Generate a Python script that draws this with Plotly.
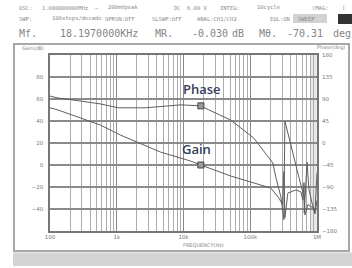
import numpy as np
import plotly.graph_objects as go

# ---- data ----
freq_phase = [100, 132, 282, 565, 1054, 2690, 9010, 18197, 23770, 50900, 113000,
              183300, 217900, 241700, 287600, 319000, 330000, 536000, 637800,
              645000, 707900, 758600, 871000, 933000, 1000000]
phase_deg = [96, 92, 86, 80, 72, 72, 78, 76, 68, 47, 10,
             -29, -41, -70, -110, -157, 45, -70, -110,
             -143, -39, -96, -131, -141, -61]

freq_gain = [100, 132, 565, 1130, 4510, 12740, 18197, 50900, 143900, 203300,
             268400, 287600, 305000, 319000, 330000, 366400, 483300, 574400,
             615600, 637800, 660000, 730000, 871000, 933000, 1000000]
gain_db = [52, 50, 36.4, 27.3, 11.8, 3.6, 0, -10, -18.2, -21,
           -30, -33.6, -36, -6, -48, -25.5, -22.7, -24.5,
           -32, -16, -45.5, -36, -39, -44.5, -32]

marker_freq = 18197
marker_gain = 0
marker_phase = 76

x_tickvals = [100, 1000, 10000, 100000, 1000000]
x_ticktext = ["100", "1k", "10k", "100k", "1M"]
gain_ticks = [-40, -20, 0, 20, 40, 60, 80]
phase_ticks = [-180, -135, -90, -45, 0, 45, 90, 135, 180]
minor_vals = [m * 10 ** d for d in range(2, 6) for m in range(2, 10)]

header1 = [("OSC:", 17), ("1.000000000MHz", 40), ("~", 93), ("200mVpeak", 106), ("DC", 172),
           ("6.00 V", 185), ("INTEG:", 218), ("10cycle", 255), ("(MAG:", 310), ("|", 340)]
header2 = [("SWP:", 17), ("100steps/decade", 50), ("OPRSN:OFF", 103), ("SLSWP:OFF", 150),
           ("ANAL:CH1/CH2", 195), ("EQL:ON", 268)]
header3 = [("Mf.", 17), ("18.1970000KHz", 58), ("MR.", 153), ("-0.030", 190), ("dB", 230),
           ("Mθ.", 257), ("-70.31", 285), ("deg", 331)]

# ---- geometry helpers (pixel -> paper) ----
W, H = 352, 268
ML, MR, MT, MB = 50, 35, 55, 37
PW, PH = W - ML - MR, H - MT - MB


def px(x):
    return (x - ML) / PW


def py(y):
    return (H - MB - y) / PH


fig = go.Figure()
line_col = "#5e5e5e"
fig.add_trace(go.Scatter(x=freq_phase, y=phase_deg, yaxis="y2", mode="lines",
                         line=dict(color=line_col, width=1), showlegend=False))
fig.add_trace(go.Scatter(x=freq_gain, y=gain_db, mode="lines",
                         line=dict(color=line_col, width=1), showlegend=False))
fig.add_trace(go.Scatter(x=[marker_freq], y=[marker_phase], yaxis="y2", mode="markers",
                         marker=dict(symbol="square", size=6, color="#9a9a9a",
                                     line=dict(color="#444", width=1)), showlegend=False))
fig.add_trace(go.Scatter(x=[marker_freq], y=[marker_gain], mode="markers",
                         marker=dict(symbol="square", size=6, color="#9a9a9a",
                                     line=dict(color="#444", width=1)), showlegend=False))

tickfont = dict(family="DejaVu Sans", size=5.5, color="#777")
fig.update_layout(
    width=W, height=H,
    margin=dict(l=ML, r=MR, t=MT, b=MB, pad=0),
    paper_bgcolor="white", plot_bgcolor="white",
    xaxis=dict(type="log", range=[2, 6], tickvals=x_tickvals, ticktext=x_ticktext,
               showgrid=True, gridcolor="#8a8a8a", gridwidth=1.2,
               minor=dict(tickvals=minor_vals, showgrid=True, gridcolor="#acacac", gridwidth=1),
               showline=True, linecolor="#777", linewidth=1.5, mirror=True,
               ticks="", tickfont=tickfont, zeroline=False),
    yaxis=dict(range=[-60, 100], tickvals=gain_ticks, showgrid=True, gridcolor="#8a8a8a",
               gridwidth=1.5, showline=True, linecolor="#777", linewidth=1.5, mirror=True,
               ticks="", tickfont=tickfont, zeroline=False, ticklabelstandoff=4),
    yaxis2=dict(range=[-180, 180], tickvals=phase_ticks, overlaying="y", side="right",
                showgrid=False, zeroline=False, ticks="", tickfont=tickfont,
                ticklabelstandoff=4),
)

shapes = [
    # outer frame
    dict(type="rect", xref="paper", yref="paper", x0=px(14), x1=px(349), y0=py(251), y1=py(44),
         line=dict(color="#a8a8a8", width=2), fillcolor="rgba(0,0,0,0)", layer="below"),
    # bottom grey band
    dict(type="rect", xref="paper", yref="paper", x0=px(13), x1=px(353), y0=py(266), y1=py(252.5),
         line=dict(width=0), fillcolor="#d4d4d4", layer="below"),
    # right shaded band in plot
    dict(type="rect", xref="paper", yref="paper", x0=px(310), x1=1, y0=0, y1=1,
         line=dict(width=0), fillcolor="rgba(190,190,190,0.35)", layer="below"),
    # SWEEP box
    dict(type="rect", xref="paper", yref="paper", x0=px(293), x1=px(327), y0=py(23), y1=py(14),
         line=dict(width=0), fillcolor="#d2d2d2", layer="below"),
    # black box
    dict(type="rect", xref="paper", yref="paper", x0=px(338), x1=px(353), y0=py(24), y1=py(14),
         line=dict(width=0), fillcolor="#333", layer="below"),
]
fig.update_layout(shapes=shapes)

ann = []
for txt, x in header1:
    ann.append(dict(text=txt, x=px(x), y=py(8), xref="paper", yref="paper", xanchor="left",
                    yanchor="middle", showarrow=False,
                    font=dict(family="DejaVu Sans Mono", size=5.5, color="#8a8a8a")))
for txt, x in header2:
    ann.append(dict(text=txt, x=px(x), y=py(19), xref="paper", yref="paper", xanchor="left",
                    yanchor="middle", showarrow=False,
                    font=dict(family="DejaVu Sans Mono", size=5.5, color="#8a8a8a")))
ann.append(dict(text="SWEEP", x=px(296), y=py(19), xref="paper", yref="paper", xanchor="left",
                yanchor="middle", showarrow=False,
                font=dict(family="DejaVu Sans Mono", size=5.5, color="#8a8a8a")))
for txt, x in header3:
    ann.append(dict(text=txt, x=px(x), y=py(33), xref="paper", yref="paper", xanchor="left",
                    yanchor="middle", showarrow=False,
                    font=dict(family="DejaVu Sans Mono", size=10, color="#858585")))
ann.append(dict(text="Gain(dB)", x=px(20), y=py(48), xref="paper", yref="paper",
                xanchor="left", yanchor="middle", showarrow=False,
                font=dict(family="DejaVu Sans", size=5, color="#888")))
ann.append(dict(text="Phase(deg)", x=px(347), y=py(47), xref="paper", yref="paper",
                xanchor="right", yanchor="middle", showarrow=False,
                font=dict(family="DejaVu Sans", size=5, color="#888")))
ann.append(dict(text="FREQUENCY(Hz)", x=px(203), y=py(245), xref="paper", yref="paper",
                xanchor="center", yanchor="middle", showarrow=False,
                font=dict(family="DejaVu Sans", size=5, color="#888")))
ann.append(dict(text="Phase", x=np.log10(marker_freq), y=marker_phase, xref="x", yref="y2",
                yshift=17, xshift=1, showarrow=False,
                font=dict(family="Open Sans", size=13, color="#34405a", weight=600)))
ann.append(dict(text="Gain", x=np.log10(marker_freq), y=marker_gain, xref="x", yref="y",
                yshift=16, xshift=-4, showarrow=False,
                font=dict(family="Open Sans", size=13, color="#34405a", weight=600)))
fig.update_layout(annotations=ann)

fig.write_html("out.html", config={"displayModeBar": False},
               post_script="document.body.style.margin='0';document.body.style.overflow='hidden';")
